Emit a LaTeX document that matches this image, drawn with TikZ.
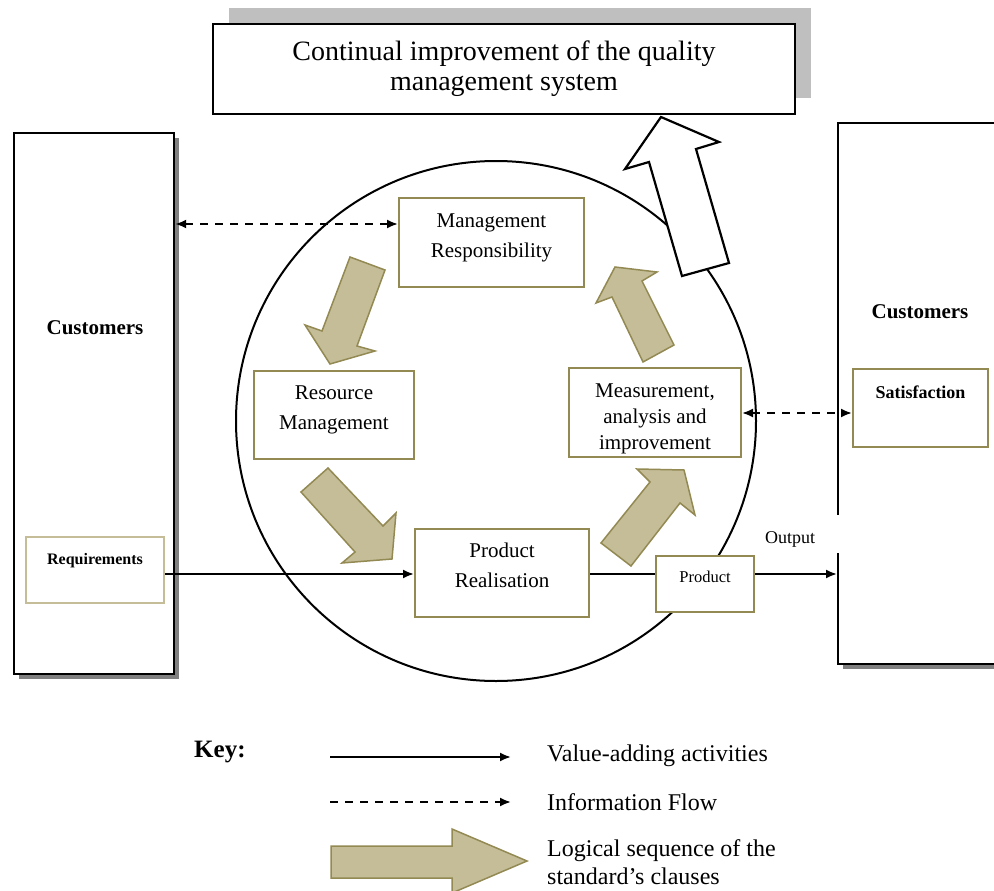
\documentclass[tikz,border=0pt]{standalone}
\usepackage{fontspec}
\setmainfont{Liberation Serif}
\usetikzlibrary{arrows.meta,shadows}
\definecolor{seqfill}{HTML}{C4BD97}
\definecolor{seqline}{HTML}{938953}
\definecolor{shadegray}{HTML}{808080}
\definecolor{lightshade}{HTML}{BFBFBF}
% centred lines whose baseline is that of the first line
\newcommand{\boxlines}[1]{\begin{tabular}[t]{@{}c@{}}#1\end{tabular}}
\tikzset{
  procbox/.style={draw=seqline, line width=2pt, fill=white, align=center,
    inner sep=0pt, anchor=north west, font=\fontsize{21}{30}\selectfont},
  tagbox/.style={line width=2pt, fill=white, align=center, inner sep=0pt, anchor=north west,
    font=\fontsize{16}{18}\selectfont\bfseries},
  seqarrow/.style={fill=seqfill, draw=seqline, line width=1.5pt, line join=miter},
  custbox/.style={draw=black, line width=2.2pt, fill=white, anchor=north west,
    drop shadow={shadow xshift=5pt, shadow yshift=-5pt, fill=shadegray, opacity=1}},
  tip/.tip={Latex[length=11pt,width=9pt]},
  flow/.style={line width=2pt, -tip},
  info/.style={line width=2pt, dash pattern=on 8pt off 7pt, tip-tip},
  keytext/.style={anchor=west, align=left, inner sep=0pt, font=\fontsize{24}{28}\selectfont},
}
\begin{document}
\begin{tikzpicture}[x=1pt, y=-1pt]
\useasboundingbox (0,0) rectangle (994,891);

% goal box at the top
\node[draw=black, line width=2.2pt, fill=white, minimum width=582pt, minimum height=90pt,
      align=center, font=\fontsize{28}{30}\selectfont,
      drop shadow={shadow xshift=16pt, shadow yshift=16pt, fill=lightshade, opacity=1}]
  (goal) at (504,69) {Continual improvement of the quality\\management system};

% customer columns
\node[custbox, minimum width=160pt, minimum height=541pt] (leftbox) at (13,132) {};
\node[font=\fontsize{21}{24}\selectfont\bfseries] (custL) at (95,328) {Customers};
\node[custbox, minimum width=190pt, minimum height=541pt] (rightbox) at (837,122) {};
\node[font=\fontsize{21}{24}\selectfont\bfseries] (custR) at (920,312) {Customers};

\node[tagbox, draw=seqfill, minimum width=138pt, text height=27pt, text depth=39pt]
  (req) at (25,536) {Requirements};
\node[tagbox, draw=seqline, minimum width=135pt, text height=29pt, text depth=49pt,
      font=\fontsize{18}{20}\selectfont\bfseries]
  (sat) at (852,368) {Satisfaction};

% the process cycle
\node[draw=black, line width=2pt, circle, minimum size=520pt, inner sep=0pt] (cycle) at (496,421) {};

% improvement arrow leaving the cycle
\draw[line width=2.2pt, fill=white, line join=miter]
  (661,117) -- (719,142) -- (696,149) -- (729,263) -- (682,276) -- (649,162) -- (625,169) -- cycle;

% sequence arrows between the clauses
\draw[seqarrow] (350,257) -- (385,270) -- (357,346) -- (375,351) -- (330,364) -- (305,325) -- (322,331) -- cycle;
\draw[seqarrow] (328,468) -- (383,526) -- (396,513) -- (392,559) -- (342,563) -- (355,552) -- (301,492) -- cycle;
\draw[seqarrow] (601,543) -- (650,482) -- (637,469) -- (684,470) -- (695,515) -- (680,503) -- (631,566) -- cycle;
\draw[seqarrow] (643,362) -- (612,297) -- (596,303) -- (615,267) -- (657,272) -- (642,281) -- (674,345) -- cycle;

% clause boxes
\node[procbox, minimum width=185pt, text height=29pt, text depth=60pt]
  (mr) at (398,197) {\boxlines{Management\\Responsibility}};
\node[procbox, minimum width=160pt, text height=28pt, text depth=60pt]
  (rm) at (253,370) {\boxlines{Resource\\Management}};
\node[procbox, minimum width=172pt, text height=29pt, text depth=60pt, font=\fontsize{21}{26}\selectfont]
  (mai) at (568,367) {\boxlines{Measurement,\\analysis and\\improvement}};
\node[procbox, minimum width=174pt, text height=28pt, text depth=60pt]
  (pr) at (414,528) {\boxlines{Product\\Realisation}};
\node[tagbox, draw=seqline, minimum width=98pt, text height=26pt, text depth=30pt,
      font=\fontsize{16.5}{18}\selectfont]
  (prod) at (655,555) {Product};

% flows
\coordinate (yMR) at (0,224);
\coordinate (yMA) at (0,413);
\coordinate (yPR) at (0,574);
\draw[info] (leftbox.east |- yMR) -- (mr.west |- yMR);
\draw[info] (mai.east |- yMA) -- (sat.west |- yMA);
\draw[flow] (req.east |- yPR) -- (pr.west |- yPR);
\draw[line width=2pt] (pr.east |- yPR) -- (prod.west |- yPR);
\draw[flow] (prod.east |- yPR) -- (rightbox.west |- yPR);
\node[fill=white, anchor=north west, inner sep=0pt, text height=28pt, text depth=10pt,
      text width=75pt, align=left, font=\fontsize{18}{20}\selectfont]
  (out) at (765,515) {Output};

% key
\node[anchor=west, inner sep=0pt, font=\fontsize{25}{28}\selectfont\bfseries] (key) at (194,752) {Key:};
\coordinate (k1a) at (330,757);
\coordinate (k1b) at (511,757);
\coordinate (k2a) at (330,802);
\coordinate (k2b) at (511,802);
\draw[flow] (k1a) -- (k1b);
\draw[line width=2pt, dash pattern=on 8pt off 7pt, -tip] (k2a) -- (k2b);
\node[keytext] (kt1) at (547,756) {Value-adding activities};
\node[keytext] (kt2) at (547,802) {Information Flow};
\draw[seqarrow] (331,846) -- (452,846) -- (452,829) -- (527,861) -- (452,893) -- (452,878) -- (331,878) -- cycle;
\node[keytext] (kt3) at (547,862) {Logical sequence of the\\standard’s clauses};
\end{tikzpicture}
\end{document}
